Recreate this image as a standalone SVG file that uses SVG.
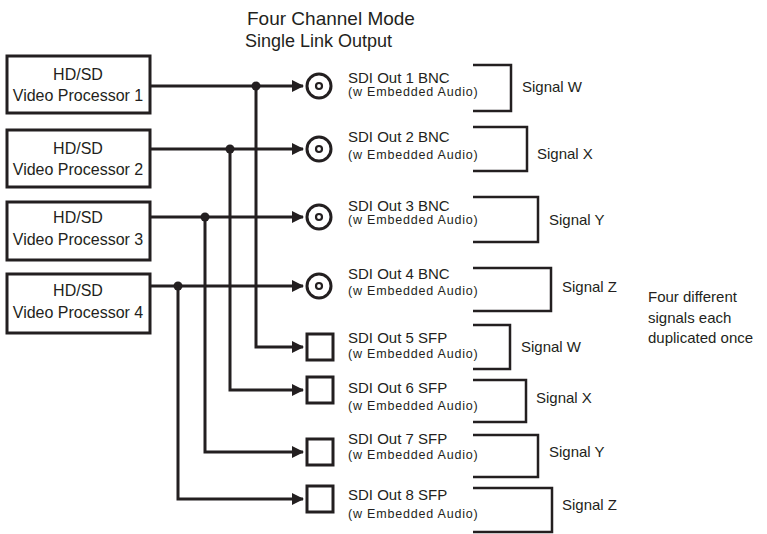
<svg xmlns="http://www.w3.org/2000/svg" width="767" height="534" viewBox="0 0 767 534">
<defs>
<style>
text{font-family:"Liberation Sans",Arial,sans-serif;fill:#231f20}
.box{fill:#fff;stroke:#231f20;stroke-width:3}
.bt{font-size:16px;text-anchor:middle}
.wire{fill:none;stroke:#231f20;stroke-width:3}
.brk{fill:none;stroke:#231f20;stroke-width:2.5}
.out{font-size:15px}
.aud{font-size:12.5px;letter-spacing:0.8px}
.sig{font-size:15px}
.dot{fill:#231f20}
.bnc{fill:#fff;stroke:#231f20;stroke-width:3}
.bncin{fill:#fff;stroke:#231f20;stroke-width:2.2}
.sfp{fill:#fff;stroke:#231f20;stroke-width:3}
</style>
<marker id="ah" markerWidth="12" markerHeight="12" viewBox="0 0 12 12" refX="11" refY="6" orient="auto" markerUnits="userSpaceOnUse">
<path d="M0,0 L12,6 L0,12 Z" fill="#231f20"/>
</marker>
</defs>
<rect width="767" height="534" fill="#fff"/>
<g id="title">
<text x="247" y="25" style="font-size:19px">Four Channel Mode</text>
<text x="245" y="47" style="font-size:18px">Single Link Output</text>
</g>
<g id="proc1"><rect class="box" x="7" y="56" width="143" height="57"/><text class="bt" x="78" y="80">HD/SD</text><text class="bt" x="78" y="101">Video Processor 1</text></g>
<g id="proc2"><rect class="box" x="7" y="130" width="143" height="57"/><text class="bt" x="78" y="154">HD/SD</text><text class="bt" x="78" y="175">Video Processor 2</text></g>
<g id="proc3"><rect class="box" x="7" y="202" width="143" height="58"/><text class="bt" x="78" y="223">HD/SD</text><text class="bt" x="78" y="245">Video Processor 3</text></g>
<g id="proc4"><rect class="box" x="7" y="274" width="143" height="59"/><text class="bt" x="78" y="296">HD/SD</text><text class="bt" x="78" y="318">Video Processor 4</text></g>
<g id="connectors">
<path class="wire" d="M150,86 H303" marker-end="url(#ah)"/>
<path class="wire" d="M150,149 H303" marker-end="url(#ah)"/>
<path class="wire" d="M150,217 H303" marker-end="url(#ah)"/>
<path class="wire" d="M150,286 H303" marker-end="url(#ah)"/>
<path class="wire" d="M256,86 V347 H303" marker-end="url(#ah)"/>
<path class="wire" d="M230,149 V390 H303" marker-end="url(#ah)"/>
<path class="wire" d="M205,217 V452 H303" marker-end="url(#ah)"/>
<path class="wire" d="M178,286 V499 H303" marker-end="url(#ah)"/>
<circle class="dot" cx="256" cy="86" r="4.5"/>
<circle class="dot" cx="230" cy="149" r="4.5"/>
<circle class="dot" cx="205" cy="217" r="4.5"/>
<circle class="dot" cx="178" cy="286" r="4.5"/>
</g>
<g id="out1"><circle class="bnc" cx="319" cy="86" r="12"/><circle class="bncin" cx="319" cy="86" r="3"/><text class="out" x="348" y="83">SDI Out 1 BNC</text><text class="aud" x="348" y="96">(w Embedded Audio)</text></g>
<g id="out2"><circle class="bnc" cx="319" cy="149" r="12"/><circle class="bncin" cx="319" cy="149" r="3"/><text class="out" x="348" y="142">SDI Out 2 BNC</text><text class="aud" x="348" y="159">(w Embedded Audio)</text></g>
<g id="out3"><circle class="bnc" cx="319" cy="217" r="12"/><circle class="bncin" cx="319" cy="217" r="3"/><text class="out" x="348" y="211">SDI Out 3 BNC</text><text class="aud" x="348" y="224">(w Embedded Audio)</text></g>
<g id="out4"><circle class="bnc" cx="319" cy="286" r="12"/><circle class="bncin" cx="319" cy="286" r="3"/><text class="out" x="348" y="279">SDI Out 4 BNC</text><text class="aud" x="348" y="295">(w Embedded Audio)</text></g>
<g id="out5"><rect class="sfp" x="307" y="334" width="26" height="26"/><text class="out" x="348" y="343">SDI Out 5 SFP</text><text class="aud" x="348" y="358">(w Embedded Audio)</text></g>
<g id="out6"><rect class="sfp" x="307" y="377" width="26" height="26"/><text class="out" x="348" y="393">SDI Out 6 SFP</text><text class="aud" x="348" y="410">(w Embedded Audio)</text></g>
<g id="out7"><rect class="sfp" x="307" y="439" width="26" height="26"/><text class="out" x="348" y="444">SDI Out 7 SFP</text><text class="aud" x="348" y="459">(w Embedded Audio)</text></g>
<g id="out8"><rect class="sfp" x="307" y="486" width="26" height="26"/><text class="out" x="348" y="500">SDI Out 8 SFP</text><text class="aud" x="348" y="518">(w Embedded Audio)</text></g>
<g id="brackets">
<path class="brk" d="M473,65 H511 V111 H473"/>
<path class="brk" d="M473,127 H527 V171 H473"/>
<path class="brk" d="M473,197 H538 V242 H473"/>
<path class="brk" d="M473,268 H551 V311 H473"/>
<path class="brk" d="M473,325 H510 V369 H473"/>
<path class="brk" d="M473,380 H526 V422 H473"/>
<path class="brk" d="M473,435 H538 V477 H473"/>
<path class="brk" d="M473,488 H552 V532 H473"/>
</g>
<g id="signals">
<text class="sig" x="522" y="92">Signal W</text>
<text class="sig" x="537" y="159">Signal X</text>
<text class="sig" x="549" y="225">Signal Y</text>
<text class="sig" x="562" y="292">Signal Z</text>
<text class="sig" x="521" y="352">Signal W</text>
<text class="sig" x="536" y="403">Signal X</text>
<text class="sig" x="549" y="457">Signal Y</text>
<text class="sig" x="562" y="510">Signal Z</text>
</g>
<g id="note">
<text class="sig" x="648" y="302">Four different</text>
<text class="sig" x="648" y="323">signals each</text>
<text class="sig" x="648" y="343">duplicated once</text>
</g>
</svg>
